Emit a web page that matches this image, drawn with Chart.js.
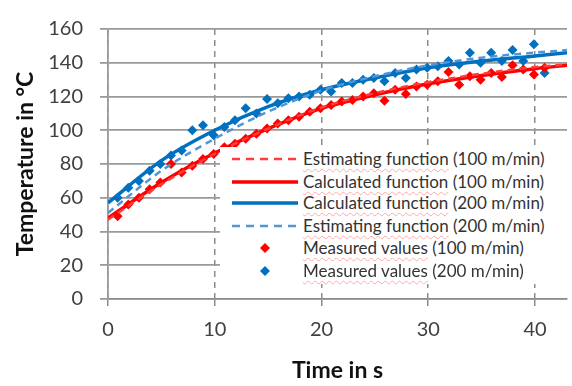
<!DOCTYPE html>
<html>
<head>
<meta charset="utf-8">
<script src="https://cdn.jsdelivr.net/npm/chart.js@4.4.1/dist/chart.umd.min.js"></script>
<style>
html,body{margin:0;padding:0;background:#fff;}
#wrap{position:relative;width:572px;height:386px;}
#legend{position:absolute;left:220px;top:147px;width:352px;height:137px;background:#fff;font-family:Lato,"Open Sans",sans-serif;font-size:17px;color:#333;}
#legend .row{position:absolute;left:0;height:22px;width:352px;}
#legend svg{position:absolute;left:10px;top:0;}
#legend span{position:absolute;left:83px;top:0px;white-space:nowrap;line-height:21px;}
#legend u{text-decoration:underline wavy rgba(255,80,80,0.45);text-decoration-thickness:1px;text-underline-offset:3px;}
</style>
</head>
<body>
<div id="wrap">
<canvas id="c" width="572" height="386"></canvas>
<div id="legend"></div>
</div>
<script>
// ---- data ----
const curveTime = [0, 5, 10, 15, 20, 25, 30, 35, 40, 43];
const estimating100 = [47, 68, 86, 101, 113.5, 122, 128.5, 133.5, 137.5, 139];
const calculated100 = [48, 69, 86.5, 101, 113, 121, 127.5, 132.5, 136.5, 138.5];
const calculated200 = [57, 82, 100, 114, 124, 131, 137, 141, 144, 146];
const estimating200 = [51, 76, 95, 111, 123.5, 132, 138.5, 143, 146, 147.5];

const measuredTime = [0.9,1.9,2.9,3.9,4.9,5.9,6.9,7.9,8.9,9.9,10.9,11.9,12.9,13.9,14.9,15.9,16.9,17.9,18.9,19.9,20.9,21.9,22.9,23.9,24.9,25.9,26.9,27.9,28.9,29.9,30.9,31.9,32.9,33.9,34.9,35.9,36.9,37.9,38.9,39.9,40.9];
const measured100 = [49,56,60,65,69,80,75,79,83,86,90,92,95,98,101,104,106,108,111,113,115,117,118,120,122,117.5,124,121.5,126,127,129,134.5,127,132,130,134,131.5,138.5,136,133,137];
const measured200 = [60,66,70,76,80,85,88,100,103,97,102,106,113,110,118.5,116,119,120,121,124,123,128,128,130,131,129,134,131,136,137,138,141,139,146,140,146,141,147.5,141,151,134];

const xTicks = [0, 10, 20, 30, 40];
const yTicks = [0, 20, 40, 60, 80, 100, 120, 140, 160];

const seriesNames = ["Estimating function (100 m/min)","Calculated function (100 m/min)","Calculated function (200 m/min)","Estimating function (200 m/min)","Measured values (100 m/min)","Measured values (200 m/min)"];

const RED = 'rgb(255,0,0)', RED_D = 'rgb(255,60,60)', BLUE = 'rgb(0,112,192)', BLUE_D = 'rgb(80,150,215)';

function pts(xs, ys){ return xs.map((x,i)=>({x:x,y:ys[i]})); }

const lineBase = {type:'line', pointRadius:0, fill:false, cubicInterpolationMode:'monotone'};
const ds = [
  {...lineBase, label:seriesNames[0], data:pts(curveTime, estimating100), borderColor:RED_D, borderWidth:2.5, borderDash:[7,5], order:1},
  {...lineBase, label:seriesNames[1], data:pts(curveTime, calculated100), borderColor:RED, borderWidth:3.5, order:2},
  {...lineBase, label:seriesNames[2], data:pts(curveTime, calculated200), borderColor:BLUE, borderWidth:3.5, order:2},
  {...lineBase, label:seriesNames[3], data:pts(curveTime, estimating200), borderColor:BLUE_D, borderWidth:2.5, borderDash:[7,5], order:1},
  {type:'scatter', label:seriesNames[4], data:pts(measuredTime, measured100), pointStyle:'rectRot', pointRadius:5, backgroundColor:RED, borderColor:RED, borderWidth:0, order:3},
  {type:'scatter', label:seriesNames[5], data:pts(measuredTime, measured200), pointStyle:'rectRot', pointRadius:5, backgroundColor:BLUE, borderColor:BLUE, borderWidth:0, order:3}
];

const tickFont = {family:'Lato', size:20};
const titleFont = {family:'Lato', size:23, weight:'bold'};

new Chart(document.getElementById('c'), {
  type:'scatter',
  data:{datasets:ds},
  options:{
    responsive:false, animation:false,
    layout:{padding:{top:17, right:0, left:0, bottom:0}},
    plugins:{legend:{display:false}, tooltip:{enabled:false}},
    scales:{
      x:{
        type:'linear', min:0, max:43,
        afterBuildTicks:(s)=>{ s.ticks = xTicks.map(v=>({value:v})); },
        afterFit:(s)=>{ s.height = 87; },
        ticks:{font:tickFont, color:'#404040', padding:12},
        grid:{color:'#8c8c8c', lineWidth:1.5, tickLength:7, tickColor:'#8c8c8c'},
        border:{display:true, color:'#8c8c8c', width:1.5, dash:[6,5]},
        title:{display:true, text:'Time in s', font:titleFont, color:'#111', padding:{top:2,bottom:2}}
      },
      y:{
        type:'linear', min:0, max:160,
        afterBuildTicks:(s)=>{ s.ticks = yTicks.map(v=>({value:v})); },
        afterFit:(s)=>{ s.width = 108; },
        ticks:{font:tickFont, color:'#404040', padding:17},
        grid:{color:'#9a9a9a', lineWidth:1.8, tickLength:8, tickColor:'#9a9a9a'},
        border:{display:true, color:'#9a9a9a', width:1.8},
        title:{display:true, text:'Temperature in °C', font:titleFont, color:'#111', padding:{top:12,bottom:0}}
      }
    }
  }
});

// HTML legend
const legendRows = [
  {kind:'line', color:RED_D, dash:true},
  {kind:'line', color:RED, dash:false},
  {kind:'line', color:BLUE, dash:false},
  {kind:'line', color:BLUE_D, dash:true},
  {kind:'pt', color:RED},
  {kind:'pt', color:BLUE}
];
const rowTops = [1, 24, 45, 68, 90, 113];
const leg = document.getElementById('legend');
legendRows.forEach((r,i)=>{
  const row = document.createElement('div');
  row.className='row'; row.style.top = rowTops[i]+'px';
  let svg;
  if(r.kind==='line'){
    svg = `<svg width="70" height="22"><line x1="2" y1="11" x2="68" y2="11" stroke="${r.color}" stroke-width="${r.dash?2.5:3.5}" ${r.dash?'stroke-dasharray="8,6"':''}/></svg>`;
  } else {
    svg = `<svg width="70" height="22"><polygon points="35,6 40,11 35,16 30,11" fill="${r.color}"/></svg>`;
  }
  const name = seriesNames[i];
  const m = name.match(/^(.*?)( \(.*\))$/);
  row.innerHTML = svg + `<span><u>${m[1]}</u>${m[2]}</span>`;
  leg.appendChild(row);
});
</script>
</body>
</html>
